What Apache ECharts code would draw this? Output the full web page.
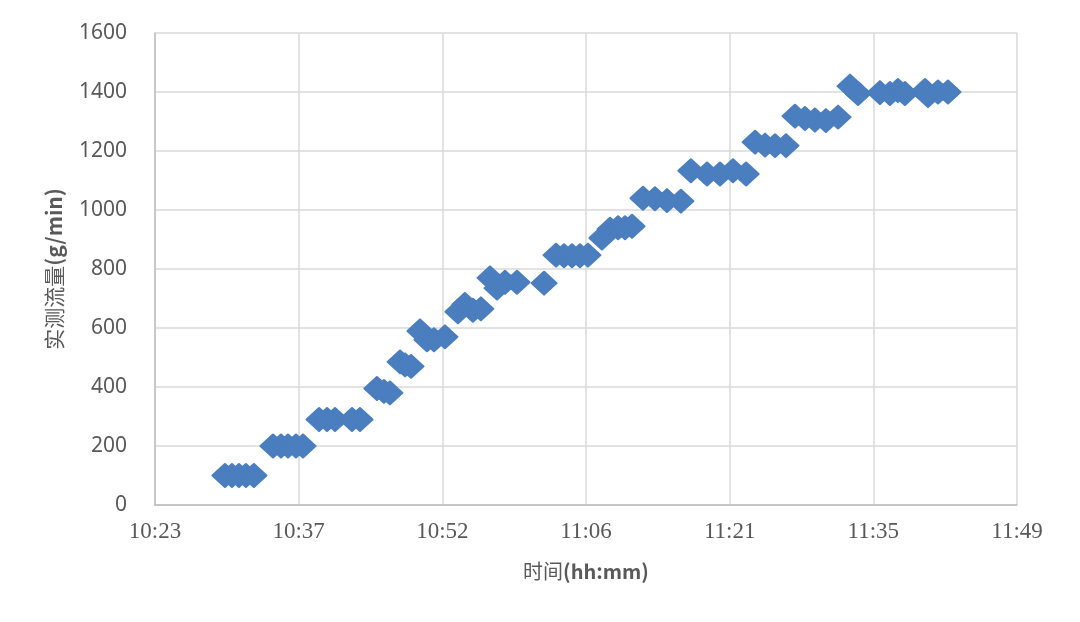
<!DOCTYPE html>
<html>
<head>
<meta charset="utf-8">
<script src="https://cdn.jsdelivr.net/npm/echarts@6/dist/echarts.min.js"></script>
<style>html,body{margin:0;padding:0;background:#fff;}#c{width:1080px;height:622px;}</style>
</head>
<body>
<div id="c"></div>
<script>
// Measurement times (hh:mm:ss)
const times = [
  '10:30:32','10:31:14','10:31:56','10:32:38','10:33:26',
  '10:35:21','10:36:09','10:36:51','10:37:39','10:38:21',
  '10:39:58','10:40:46','10:41:34','10:43:16','10:44:04',
  '10:45:46','10:46:28','10:47:04',
  '10:48:05','10:48:35','10:49:11',
  '10:50:05','10:50:47','10:51:29','10:52:35',
  '10:53:53','10:54:35','10:55:23','10:56:11',
  '10:57:06','10:57:48','10:58:36','10:59:48','11:02:31',
  '11:03:43','11:04:31','11:05:19','11:06:07','11:06:55',
  '11:08:19','11:09:08','11:09:56','11:10:38','11:11:20',
  '11:12:26','11:13:38','11:14:50','11:16:14',
  '11:17:14','11:18:51','11:20:09','11:21:27','11:22:46',
  '11:23:40','11:24:40','11:25:40','11:26:46',
  '11:27:40','11:28:40','11:29:40','11:30:46','11:31:59',
  '11:33:11','11:33:59','11:36:11','11:37:11','11:37:59','11:38:41',
  '11:40:42','11:41:00','11:42:00','11:43:00'
];
// Measured flow (g/min)
const flows = [
  100,100,100,100,100,
  200,200,200,200,200,
  290,290,290,290,290,
  395,385,380,
  485,475,470,
  590,560,560,570,
  655,680,660,665,
  770,735,755,755,752,
  847,845,845,845,847,
  905,935,940,940,945,
  1040,1038,1032,1030,
  1133,1122,1122,1133,1122,
  1230,1220,1218,1218,
  1318,1310,1305,1303,1315,
  1420,1395,1398,1395,1405,1395,
  1405,1388,1400,1400
];
const xTickLabels = ['10:23','10:37','10:52','11:06','11:21','11:35','11:49'];
const yTickLabels = ['0','200','400','600','800','1000','1200','1400','1600'];

const AXIS_START_MIN = 0.433 * 1440; // axis origin in minutes of day
const TICK_STEP = 14.4;              // 0.01 day
function toOffset(s){
  const p = s.split(':').map(Number);
  return p[0]*60 + p[1] + p[2]/60 - AXIS_START_MIN;
}
const data = times.map((t,i)=>[toOffset(t), flows[i]]);

const chart = echarts.init(document.getElementById('c'), null, {renderer:'canvas'});
const gridColor = '#d9d9d9';
const markColor = '#4A7EBF';
chart.setOption({
  animation:false,
  backgroundColor:'#ffffff',
  grid:{left:155, right:63, top:33, bottom:117, containLabel:false},
  xAxis:{
    type:'value', min:0, max:TICK_STEP*6, interval:TICK_STEP,
    name:'{a|时间}{b|(hh:mm)}', nameLocation:'middle', nameGap:56,
    nameTextStyle:{rich:{
      a:{fontFamily:'Noto Sans CJK SC', fontSize:20, color:'#595959'},
      b:{fontFamily:'Noto Sans CJK SC', fontSize:20, fontWeight:'bold', color:'#595959'}
    }},
    axisLine:{show:true, lineStyle:{color:'#bfbfbf', width:1.5}},
    axisTick:{show:false},
    splitLine:{show:true, lineStyle:{color:gridColor, width:1.5}},
    axisLabel:{
      margin:15, color:'#595959', fontFamily:'Liberation Serif', fontSize:23,
      formatter:function(v){ const i=Math.round(v/TICK_STEP); return xTickLabels[i]||''; }
    }
  },
  yAxis:{
    type:'value', min:0, max:1600, interval:200,
    name:'{a|实测流量}{b|(g/min)}', nameLocation:'middle', nameGap:90,
    nameTextStyle:{rich:{
      a:{fontFamily:'Noto Sans CJK SC', fontSize:21, color:'#595959'},
      b:{fontFamily:'Noto Sans CJK SC', fontSize:21, fontWeight:'bold', color:'#595959'}
    }},
    axisLine:{show:true, lineStyle:{color:'#bfbfbf', width:1.5}},
    axisTick:{show:false},
    splitLine:{show:true, lineStyle:{color:gridColor, width:1.5}},
    axisLabel:{
      margin:28, color:'#595959', fontFamily:'Noto Sans', fontSize:21,
      formatter:function(v){ const i=Math.round(v/200); return yTickLabels[i]||''; }
    }
  },
  series:[{
    type:'scatter',
    data:data,
    symbol:'diamond',
    symbolSize:[25,23],
    itemStyle:{color:markColor, borderColor:markColor, borderWidth:2, borderJoin:'round', opacity:1},
    emphasis:{disabled:true}
  }]
});
</script>
</body>
</html>
